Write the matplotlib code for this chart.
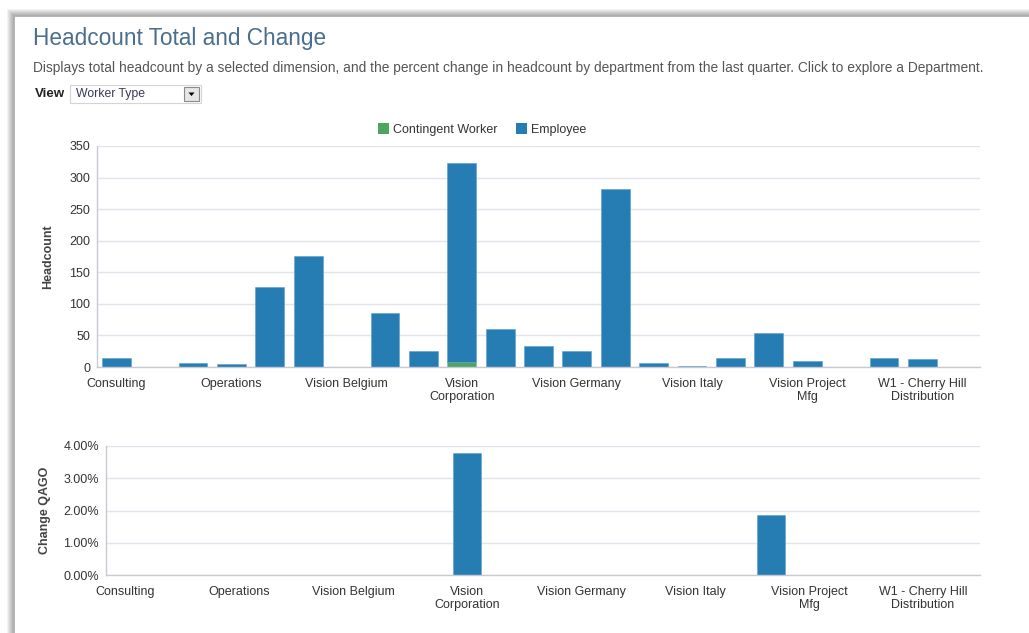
import matplotlib.pyplot as plt
import numpy as np
from matplotlib.patches import Rectangle, Patch, Polygon
from matplotlib.ticker import FuncFormatter

plt.rcParams['font.family'] = ['Liberation Sans', 'DejaVu Sans']

# headcount by department (23 departments, only every third one is labelled)
employee = [15, 0, 7, 4, 126, 176, 0, 85, 26, 315, 60, 33, 26, 282, 6, 2, 15, 54, 10, 0, 14, 12, 0]
contingent = [0, 0, 0, 0, 0, 0, 0, 0, 0, 8, 0, 0, 0, 0, 0, 0, 0, 0, 0, 0, 0, 0, 0]
# percent change from last quarter
change_qago = [0, 0, 0, 0, 0, 0, 0, 0, 0, 3.77, 0, 0, 0, 0, 0, 0, 0, 1.86, 0, 0, 0, 0, 0]
tick_labels = ['Consulting', 'Operations', 'Vision Belgium', 'Vision\nCorporation',
               'Vision Germany', 'Vision Italy', 'Vision Project\nMfg',
               'W1 - Cherry Hill\nDistribution']
label_every = 3

BLUE = '#267db3'
GREEN = '#4ea562'
GRID = '#e3e3eb'
SPINE = '#c9c9d3'
TXT = '#333333'

W, H = 1029, 633
fig = plt.figure(figsize=(W / 100, H / 100), dpi=100)
fig.patch.set_facecolor('white')


def fx(px):
    return px / W


def fy(py):
    return 1 - py / H


# card shadow along the top and left edge
for i in range(7):
    off = 7 - i
    fig.patches.append(Rectangle((fx(14 - off), fy(H + 5)), fx(W + 20), (H + 5 - 16 + off) / H,
                                 transform=fig.transFigure, facecolor='black', alpha=0.05,
                                 edgecolor='none', zorder=-3))
fig.patches.append(Rectangle((fx(14), fy(H + 5)), fx(W), (H + 5 - 16) / H,
                             transform=fig.transFigure, facecolor='white',
                             edgecolor='#b0b0b0', linewidth=0.6, zorder=-2))

# header
fig.text(fx(33), fy(39), 'Headcount Total and Change', fontsize=16.3, color='#4a6f8e',
         va='center', ha='left')
fig.text(fx(33), fy(68), 'Displays total headcount by a selected dimension, and the percent change '
         'in headcount by department from the last quarter. Click to explore a Department.',
         fontsize=9.9, color='#555555', va='center', ha='left')
fig.text(fx(35), fy(94), 'View', fontsize=9.6, fontweight='bold', color='#222222',
         va='center', ha='left')
fig.patches.append(Rectangle((fx(70), fy(103)), fx(131), 18 / H, transform=fig.transFigure,
                             facecolor='white', edgecolor='#d4d4d4', linewidth=0.8))
fig.text(fx(76), fy(94.5), 'Worker Type', fontsize=8.8, color='#3a3a5a', va='center', ha='left')
fig.patches.append(Rectangle((fx(184), fy(101)), fx(15), 14 / H, transform=fig.transFigure,
                             facecolor='#e6e6e6', edgecolor='#8a8a8a', linewidth=0.8))
fig.patches.append(Polygon([(fx(188.5), fy(92.5)), (fx(194.5), fy(92.5)), (fx(191.5), fy(96))],
                           closed=True, transform=fig.transFigure, facecolor='black',
                           edgecolor='none'))

n = len(employee)
x = np.arange(n)
ticks = x[::label_every]


def style(ax):
    ax.set_zorder(2)
    ax.set_facecolor('none')
    ax.set_xlim(-0.5, n - 0.5)
    for s in ['top', 'right']:
        ax.spines[s].set_visible(False)
    for s in ['left', 'bottom']:
        ax.spines[s].set_color(SPINE)
        ax.spines[s].set_linewidth(1)
    ax.grid(axis='y', color=GRID, linewidth=1)
    ax.set_axisbelow(True)
    ax.tick_params(length=0, labelsize=9, labelcolor=TXT)
    ax.tick_params(axis='y', pad=5)
    ax.tick_params(axis='x', pad=8)
    ax.set_xticks(ticks)
    ax.set_xticklabels(tick_labels, linespacing=1.1)


# headcount stacked bars
ax1 = fig.add_axes([fx(97), fy(367), fx(883), 221 / H])
ax1.bar(x, contingent, width=0.75, color=GREEN, edgecolor='#7fc08f', linewidth=0.4)
ax1.bar(x, employee, width=0.75, bottom=contingent, color=BLUE, edgecolor='#5a9fcc',
        linewidth=0.4)
ax1.set_ylim(0, 350)
ax1.set_yticks(np.arange(0, 351, 50))
style(ax1)
fig.text(fx(48), fy(257), 'Headcount', rotation=90, fontsize=9, fontweight='bold',
         color='#444444', ha='center', va='center')

fig.legend(handles=[Patch(facecolor=GREEN, label='Contingent Worker'),
                    Patch(facecolor=BLUE, label='Employee')],
           loc='center', bbox_to_anchor=(fx(482), fy(129.5)), ncol=2, frameon=False,
           fontsize=9, handlelength=0.9, handleheight=0.9, handletextpad=0.3,
           columnspacing=1.5, labelcolor=TXT)

# change from last quarter
ax2 = fig.add_axes([fx(106), fy(575), fx(874), 129 / H])
ax2.bar(x, change_qago, width=0.74, color=BLUE, edgecolor='#5a9fcc', linewidth=0.4)
ax2.set_ylim(0, 4)
ax2.set_yticks(np.arange(0, 4.01, 1))
ax2.yaxis.set_major_formatter(FuncFormatter(lambda v, p: '{:.2f}%'.format(v)))
style(ax2)
fig.text(fx(45), fy(510), 'Change QAGO', rotation=90, fontsize=9, fontweight='bold',
         color='#444444', ha='center', va='center')

fig.savefig('out.png', dpi=100, facecolor='white')
